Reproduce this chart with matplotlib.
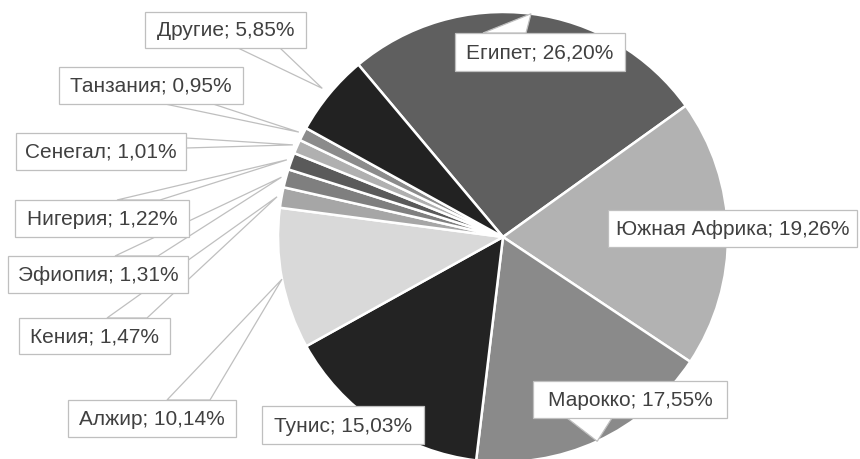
import numpy as np
import matplotlib.pyplot as plt
from matplotlib.patches import Polygon, Rectangle

W, H = 860, 459

# data, clockwise from the first slice
countries = ["Египет", "Южная Африка", "Марокко", "Тунис", "Алжир", "Кения",
             "Эфиопия", "Нигерия", "Сенегал", "Танзания", "Другие"]
shares = [26.20, 19.26, 17.55, 15.03, 10.14, 1.47, 1.31, 1.22, 1.01, 0.95, 5.85]
colors = ["#5f5f5f", "#b2b2b2", "#8a8a8a", "#232323", "#d9d9d9", "#a6a6a6",
          "#7f7f7f", "#5a5a5a", "#b0b0b0", "#8b8b8b", "#222222"]

# label boxes in pixels (x0, y0, x1, y1), pointer base points, tip radius factor
boxes = [
    (455, 33, 625, 71),
    (608, 210, 857, 247),
    (533, 381, 727, 418),
    (262, 406, 424, 444),
    (68, 400, 236, 437),
    (19, 318, 170, 354),
    (8, 256, 188, 293),
    (15, 200, 189, 237),
    (16, 133, 186, 170),
    (59, 67, 243, 104),
    (145, 12, 306, 48),
]
bases = [
    [(483, 33), (526, 33)],
    None,
    [(567, 418), (612, 418)],
    None,
    [(167, 400), (210, 400)],
    [(107, 318), (147, 318)],
    [(115, 256), (158, 256)],
    [(117, 200), (160, 200)],
    [(186, 138), (186, 148)],
    [(165, 104), (213, 104)],
    [(238, 48), (280, 48)],
]
tip_r = [1.0, 1.0, 1.0, 1.0, 1.0, 1.02, 1.02, 1.02, 1.02, 1.02, 1.04]

cx, cy, R = 503, 237, 225
start = 130  # degrees, first slice starts up-left of 12 o'clock


def P(x, y):
    return (x, H - y)


fig = plt.figure(figsize=(W / 100, H / 100), dpi=100)
ax = fig.add_axes([0, 0, 1, 1])

ax.pie(shares, colors=colors, startangle=start, counterclock=False,
       center=P(cx, cy), radius=R,
       wedgeprops=dict(edgecolor="white", linewidth=1.8))

cum = np.cumsum(shares) - np.array(shares) / 2
for i, name in enumerate(countries):
    label = f"{name}; {shares[i]:.2f}%".replace(".", ",")
    x0, y0, x1, y1 = boxes[i]
    if bases[i] is not None:
        ang = np.radians(start - 360 * cum[i] / 100)
        tip = (cx + R * tip_r[i] * np.cos(ang), cy - R * tip_r[i] * np.sin(ang))
        pts = [P(*bases[i][0]), P(*tip), P(*bases[i][1])]
        ax.add_patch(Polygon(pts, closed=True, facecolor="white",
                             edgecolor="#bfbfbf", linewidth=0.9, zorder=3))
    ax.add_patch(Rectangle(P(x0, y1), x1 - x0, y1 - y0, facecolor="white",
                           edgecolor="#bfbfbf", linewidth=0.9, zorder=4))
    ax.text(*P((x0 + x1) / 2, (y0 + y1) / 2 + 1), label, ha="center", va="center",
            fontsize=15, color="#404040", family="Liberation Sans", zorder=5)

ax.set_xlim(0, W)
ax.set_ylim(0, H)
ax.set_aspect("equal")
ax.axis("off")

fig.savefig("out.png", dpi=100)
